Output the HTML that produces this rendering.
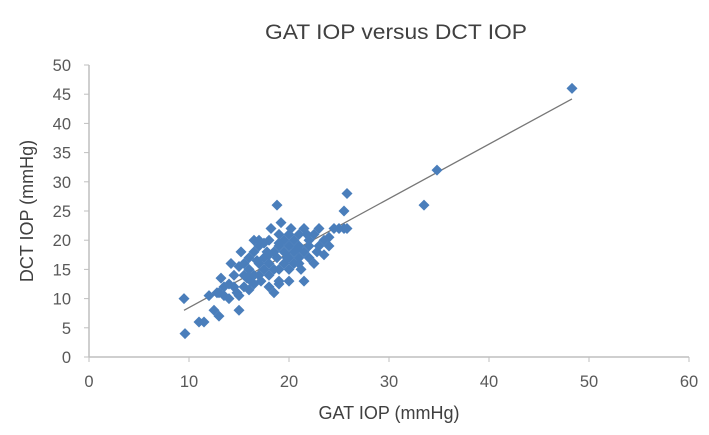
<!DOCTYPE html>
<html><head><meta charset="utf-8"><style>
body{margin:0;background:#fff;}
svg{display:block;font-family:"Liberation Sans",Arial,sans-serif;}
</style></head><body>
<svg id="chart" width="709" height="435" viewBox="0 0 709 435">
<text x="396" y="39" text-anchor="middle" font-size="21" fill="#404040" textLength="262" lengthAdjust="spacingAndGlyphs">GAT IOP versus DCT IOP</text>
<text x="389" y="419" text-anchor="middle" font-size="18" fill="#404040">GAT IOP (mmHg)</text>
<text transform="translate(33,211) rotate(-90)" text-anchor="middle" font-size="18" fill="#404040">DCT IOP (mmHg)</text>
<g id="axes"></g><g id="trend"></g><g id="pts"></g>
</svg>
<script>
const xTicks=[0,10,20,30,40,50,60];
const yTicks=[0,5,10,15,20,25,30,35,40,45,50];
const gatX=[9.5,9.6,11,11.5,12,12.5,13,12.8,13.2,13.5,14,14.2,14.5,14.8,15,15,15.2,15.5,15.5,16,16,16.2,16.5,16.5,17,17,17,17.2,17.5,17.5,17.8,18,18,18,18,18.2,18.5,18.5,18.5,18.8,18.8,19,19,19,19,19.2,19.5,19.5,19.5,20,20,20,20,20.2,20.5,20.5,20.5,21,21,21,21.2,21.5,21.5,21.5,22,22,22,22.5,22.5,23,23,23.5,24,24.5,25,25.5,25.5,25.8,25.8,33.5,34.8,48.3,13,13.5,14,14.5,15.5,15.8,16,16.5,16.8,17.5,18,19,19.8,20.8,21.8,22.8,16.5,17,19,15,24,23.5,20,21];
const dctY=[10,4,6,6,10.5,8,7,11,13.5,12,10,16,12,11,8,10.5,18,14,16,15,17,13,18,20,14,16,19,13,17,15,18,12,14,16,20,22,11,15,18,26,17,12.5,13,19,21,23,16,18,20,15,17,19,21,22,16,18,20,17,19,21,15,13,18,22,17,19,20,16,21,19,22,20,19,22,22,22,25,28,22,26,32,46,11,10.5,12.5,14,12,13.5,11.5,14,16.5,19.5,17.5,15,17,18.5,21,18,12.5,20,19.5,15.5,20.5,17.5,13,16];
const trendX=[9.5,48.3];
const X0=89,X1=689,Y0=357,Y1=65;
const xs=v=>X0+(v/60)*(X1-X0), ys=v=>Y0-(v/50)*(Y0-Y1);
const NS="http://www.w3.org/2000/svg";
function mk(t,a,p){const e=document.createElementNS(NS,t);for(const k in a)e.setAttribute(k,a[k]);p.appendChild(e);return e;}
const ax=document.getElementById('axes');
let l=mk('line',{x1:X0,y1:Y0,x2:X1,y2:Y0,stroke:'#bfbfbf','stroke-width':1.5},ax);


l=mk('line',{x1:X0,y1:Y0,x2:X0,y2:Y1,stroke:'#bfbfbf','stroke-width':1.5},ax);


xTicks.forEach(v=>{mk('line',{x1:xs(v),y1:Y0,x2:xs(v),y2:Y0+5,stroke:'#bfbfbf'},ax);
const t=mk('text',{x:xs(v),y:Y0+30,'text-anchor':'middle','font-size':16.5,fill:'#595959'},ax);t.textContent=v;

});
yTicks.forEach(v=>{mk('line',{x1:X0-5,y1:ys(v),x2:X0,y2:ys(v),stroke:'#bfbfbf'},ax);
const t=mk('text',{x:X0-18,y:ys(v)+6,'text-anchor':'end','font-size':16.5,fill:'#595959'},ax);t.textContent=v;

});
const n=gatX.length;let mx=0,my=0;for(let i=0;i<n;i++){mx+=gatX[i];my+=dctY[i];}mx/=n;my/=n;
let sxy=0,sxx=0;for(let i=0;i<n;i++){sxy+=(gatX[i]-mx)*(dctY[i]-my);sxx+=(gatX[i]-mx)**2;}
const b=sxy/sxx,a=my-b*mx;
const pg=document.getElementById('pts');
for(let i=0;i<n;i++){const cx=xs(gatX[i]),cy=ys(dctY[i]);
const p=mk('polygon',{points:`${cx},${cy-5.5} ${cx+5.5},${cy} ${cx},${cy+5.5} ${cx-5.5},${cy}`,fill:'#4a7ebb'},pg);

}
const tr=mk('line',{x1:xs(trendX[0]),y1:ys(a+b*trendX[0]),x2:xs(trendX[1]),y2:ys(a+b*trendX[1]),stroke:'#777','stroke-width':1.3},document.getElementById('trend'));


</script>
</body></html>
